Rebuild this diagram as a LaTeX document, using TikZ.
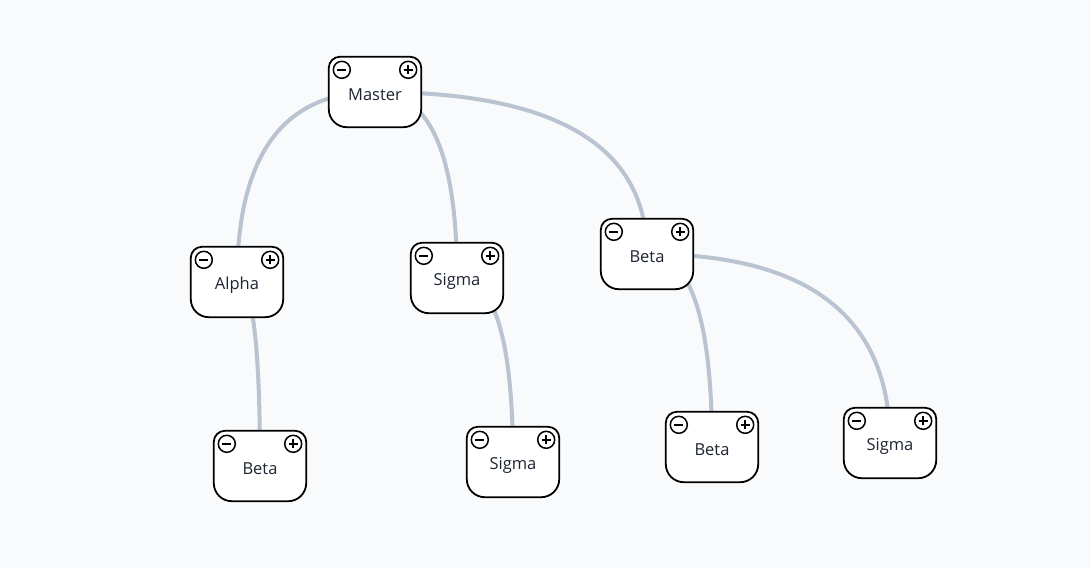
\documentclass[tikz,border=0pt]{standalone}
\usepackage{fontspec}
\setmainfont{Open Sans}
\usetikzlibrary{calc}
\pgfdeclarelayer{background}
\pgfsetlayers{background,main}
\definecolor{bgc}{HTML}{F8FAFC}
\definecolor{edgec}{HTML}{BAC4D0}
\definecolor{txtc}{HTML}{1E2530}
\tikzset{
  boxnode/.style={minimum width=92pt,minimum height=70pt,inner sep=0pt,draw=none},
  boxline/.style={draw=black,line width=1.8pt,fill=white},
  btn/.style={circle,draw=black,line width=1.5pt,fill=white,minimum size=17pt,inner sep=0pt},
  sign/.style={line width=1.5pt,black},
  lbl/.style={font=\fontsize{16.5}{19}\selectfont,text=txtc,inner sep=0pt},
  link/.style={draw=edgec,line width=4pt},
}
\newcommand\tnode[4]{%
  \node[boxnode] (#1) at (#2,#3) {};
  \path[boxline] (#1.north) [rounded corners=11pt] -- (#1.north east) -- (#1.east)
    [rounded corners=18pt] -- (#1.south east) -- (#1.south west) -- (#1.west)
    [rounded corners=11pt] -- (#1.north west) -- cycle;
  \node[lbl] (#1-t) at ($(#1.center)+(0,3)$) {#4};
  \node[btn] (#1-m) at ($(#1.north west)+(13,13)$) {};
  \node[btn] (#1-p) at ($(#1.north east)+(-13,13)$) {};
  \draw[sign] ($(#1-m.center)+(-4.5,0)$) -- ($(#1-m.center)+(4.5,0)$);
  \draw[sign] ($(#1-p.center)+(-4.5,0)$) -- ($(#1-p.center)+(4.5,0)$);
  \draw[sign] ($(#1-p.center)+(0,-4.5)$) -- ($(#1-p.center)+(0,4.5)$);
}
\newcommand\tlink[2]{%
  \begin{pgfonlayer}{background}
  \draw[link] (#1.center) .. controls ($(#1.center)!2/3!(#2.center |- #1.center)$)
     and ($(#2.center)!2/3!(#2.center |- #1.center)$) .. (#2.center);
  \end{pgfonlayer}
}
\begin{document}
\begin{tikzpicture}[x=1pt,y=-1pt]
  \begin{pgfonlayer}{background}
  \fill[bgc] (0,0) rectangle (1091,568);
  \end{pgfonlayer}
  \useasboundingbox (0,0) rectangle (1091,568);
  \tnode{master}{375}{92}{Master}
  \tnode{alpha}{237}{282}{Alpha}
  \tnode{sigmaA}{457}{278}{Sigma}
  \tnode{betaA}{647}{254}{Beta}
  \tnode{betaB}{260}{466}{Beta}
  \tnode{sigmaB}{513}{462}{Sigma}
  \tnode{betaC}{712}{447}{Beta}
  \tnode{sigmaC}{890}{443}{Sigma}
  \tlink{master}{alpha}
  \tlink{master}{sigmaA}
  \tlink{master}{betaA}
  \tlink{alpha}{betaB}
  \tlink{sigmaA}{sigmaB}
  \tlink{betaA}{betaC}
  \tlink{betaA}{sigmaC}
\end{tikzpicture}
\end{document}
